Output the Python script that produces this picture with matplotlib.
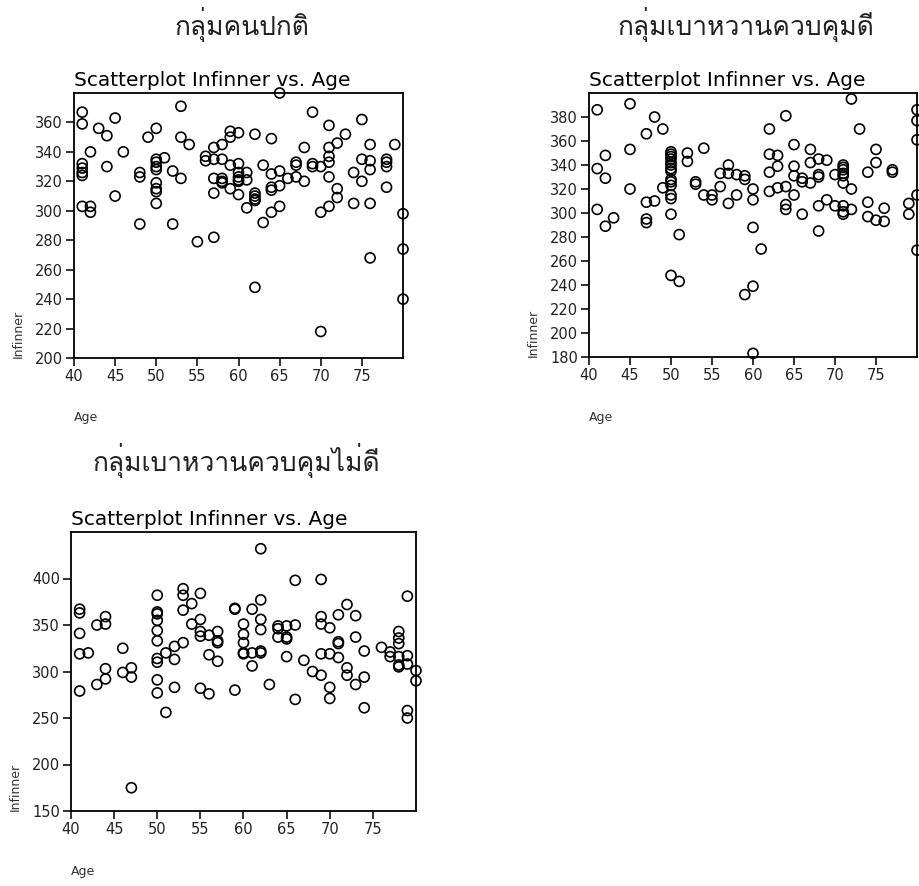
import matplotlib
matplotlib.use("Agg")
import matplotlib.pyplot as plt
from matplotlib import font_manager
from fontTools.ttLib import TTFont

# -------------------------------------------------
# data (Age, Infinner)
# -------------------------------------------------
group_titles = ["กลุ่มคนปกติ", "กลุ่มเบาหวานควบคุมดี", "กลุ่มเบาหวานควบคุมไม่ดี"]
plot_title = "Scatterplot Infinner vs. Age"

normal_age = [41, 41, 41, 41, 41, 41, 41, 42, 42, 42, 43, 44, 44, 45, 45, 46,
              48, 48, 48, 49, 50, 50, 50, 50, 50, 50, 50, 50, 50, 51, 52, 52,
              53, 53, 53, 54, 55, 56, 56, 57, 57, 57, 57, 57, 58, 58, 58, 58, 58,
              59, 59, 59, 59, 60, 60, 60, 60, 60, 60, 60, 61, 61, 61,
              62, 62, 62, 62, 62, 62, 63, 63, 64, 64, 64, 64, 64,
              65, 65, 65, 65, 66, 67, 67, 67, 68, 68, 69, 69, 69, 70, 70, 70,
              71, 71, 71, 71, 71, 71, 72, 72, 72, 73, 74, 74, 75, 75, 75,
              76, 76, 76, 76, 76, 78, 78, 78, 78, 79, 80, 80, 80]
normal_inf = [367, 359, 332, 329, 326, 324, 303, 303, 299, 340, 356, 351, 330, 363, 310, 340,
              326, 323, 291, 350, 356, 335, 333, 330, 328, 319, 315, 313, 305, 336, 327, 291,
              371, 350, 322, 345, 279, 337, 334, 343, 335, 322, 312, 282, 345, 335, 322, 320, 319,
              354, 350, 331, 315, 353, 332, 326, 323, 321, 320, 311, 326, 321, 302,
              352, 312, 310, 308, 307, 248, 292, 331, 349, 325, 316, 314, 299,
              380, 327, 317, 303, 322, 333, 331, 323, 343, 320, 367, 332, 330, 330, 299, 218,
              358, 343, 337, 333, 323, 303, 346, 315, 309, 352, 326, 305, 362, 335, 320,
              345, 334, 328, 305, 268, 335, 333, 330, 316, 345, 298, 274, 240]

good_age = [41, 41, 41, 42, 42, 42, 43, 45, 45, 45, 47, 47, 47, 47, 48, 48, 49, 49,
            50, 50, 50, 50, 50, 50, 50, 50, 50, 50, 50, 50, 50, 50, 50,
            51, 51, 52, 52, 53, 53, 54, 54, 55, 55, 56, 56, 57, 57, 57, 58, 58,
            59, 59, 59, 60, 60, 60, 60, 60, 61, 62, 62, 62, 62, 63, 63, 63,
            64, 64, 64, 64, 65, 65, 65, 65, 66, 66, 66, 67, 67, 67,
            68, 68, 68, 68, 68, 69, 69, 70, 70, 71, 71, 71, 71, 71, 71, 71, 71, 71,
            72, 72, 72, 73, 74, 74, 74, 75, 75, 75, 76, 76, 77, 77, 79, 79,
            80, 80, 80, 80, 80]
good_inf = [386, 337, 303, 348, 329, 289, 296, 391, 353, 320, 366, 309, 295, 292, 380, 310, 370, 321,
            351, 349, 347, 345, 342, 340, 337, 335, 328, 326, 323, 315, 312, 299, 248,
            282, 243, 350, 343, 326, 324, 354, 315, 315, 311, 333, 322, 340, 333, 308, 332, 315,
            331, 328, 232, 320, 311, 288, 239, 183, 270, 370, 349, 334, 318, 348, 339, 321,
            381, 322, 307, 303, 357, 339, 331, 315, 329, 326, 299, 353, 342, 325,
            345, 332, 330, 306, 285, 344, 311, 332, 306, 340, 338, 336, 333, 331, 325, 306, 301, 299,
            395, 320, 303, 370, 334, 309, 297, 353, 342, 294, 304, 293, 336, 334, 308, 299,
            386, 377, 361, 315, 269]

poor_age = [41, 41, 41, 41, 41, 42, 43, 43, 44, 44, 44, 44, 46, 46, 47, 47, 47,
            50, 50, 50, 50, 50, 50, 50, 50, 50, 50, 51, 51, 52, 52, 52,
            53, 53, 53, 53, 54, 54, 55, 55, 55, 55, 55, 56, 56, 56, 57, 57, 57, 57,
            59, 59, 59, 60, 60, 60, 60, 60, 61, 61, 61, 62, 62, 62, 62, 62, 62,
            63, 64, 64, 64, 65, 65, 65, 65, 66, 66, 66, 67, 68,
            69, 69, 69, 69, 69, 70, 70, 70, 70, 71, 71, 71, 71, 72, 72, 72,
            73, 73, 73, 74, 74, 74, 76, 77, 77, 78, 78, 78, 78, 78, 78,
            79, 79, 79, 79, 79, 80, 80]
poor_inf = [367, 363, 341, 319, 279, 320, 350, 286, 359, 351, 303, 292, 325, 299, 304, 294, 175,
            382, 364, 362, 355, 344, 333, 314, 310, 291, 277, 320, 256, 327, 313, 283,
            389, 382, 366, 331, 373, 351, 384, 356, 343, 338, 282, 339, 318, 276, 343, 333, 331, 311,
            368, 367, 280, 351, 340, 331, 320, 319, 367, 320, 306, 432, 377, 356, 345, 322, 320,
            286, 349, 346, 337, 349, 337, 335, 316, 398, 350, 270, 312, 300,
            399, 359, 351, 319, 296, 347, 319, 283, 271, 361, 332, 330, 315, 372, 304, 296,
            360, 337, 286, 322, 294, 261, 326, 321, 316, 343, 336, 330, 316, 307, 305,
            381, 317, 308, 258, 250, 301, 290]

x_ticks = [40, 45, 50, 55, 60, 65, 70, 75]
y_ticks_normal = [200, 220, 240, 260, 280, 300, 320, 340, 360]
y_ticks_good = [180, 200, 220, 240, 260, 280, 300, 320, 340, 360, 380]
y_ticks_poor = [150, 200, 250, 300, 350, 400]


def find_thai_font():
    # matplotlib's default font has no Thai glyphs, so look for one that does
    for f in font_manager.fontManager.ttflist:
        try:
            cmap = TTFont(f.fname, fontNumber=0, lazy=True).getBestCmap()
        except Exception:
            continue
        if cmap and 0x0E01 in cmap and 0x0E38 in cmap:
            return f.name
    return "DejaVu Sans"


thai_font = find_thai_font()

fig = plt.figure(figsize=(9.2, 8.86), dpi=100)
W, H = 920, 886


def add_panel(box, ages, vals, yticks, ylim, heading, heading_xy):
    l, t, r, b = box
    ax = fig.add_axes([l / W, 1 - b / H, (r - l) / W, (b - t) / H])
    ax.scatter(ages, vals, s=52, facecolors="none", edgecolors="black",
               linewidths=1.2, clip_on=False, zorder=3)
    ax.set_xlim(40, 80)
    ax.set_ylim(*ylim)
    ax.set_xticks(x_ticks)
    ax.set_yticks(yticks)
    for sp in ax.spines.values():
        sp.set_linewidth(1.3)
    ax.tick_params(direction="out", length=6, width=1.3, labelsize=10.5,
                   colors="#222222", top=False, right=False, pad=2)
    ax.set_title(plot_title, loc="left", fontsize=14.5, pad=5)
    ax.annotate("Infinner", xy=(0, 0), xycoords="axes fraction",
                xytext=(-56, 0), textcoords="offset pixels",
                rotation=90, ha="center", va="bottom", fontsize=9, color="#333333")
    ax.annotate("Age", xy=(0, 0), xycoords="axes fraction",
                xytext=(0, -60), textcoords="offset pixels",
                ha="left", va="center", fontsize=9, color="#333333")
    fig.text(heading_xy[0] / W, 1 - heading_xy[1] / H, heading,
             family=[thai_font, "DejaVu Sans"], fontsize=19,
             ha="center", va="center", color="#222222")
    return ax


add_panel((74, 93, 403, 358), normal_age, normal_inf, y_ticks_normal, (200, 380),
          group_titles[0], (242, 24))
add_panel((589, 93, 917, 357), good_age, good_inf, y_ticks_good, (180, 400),
          group_titles[1], (746, 24))
add_panel((71, 532, 416, 811), poor_age, poor_inf, y_ticks_poor, (150, 450),
          group_titles[2], (236, 461))

fig.savefig("out.png", dpi=100)
